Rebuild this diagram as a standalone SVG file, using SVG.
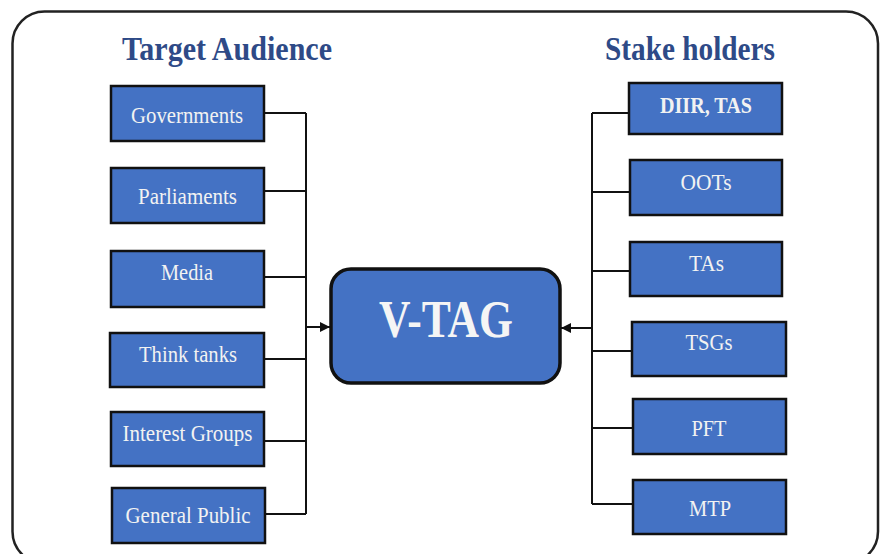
<svg xmlns="http://www.w3.org/2000/svg" width="884" height="554" viewBox="0 0 884 554">
<style>
.box{fill:#4472C4;stroke:#111;stroke-width:2.5}
.lbl{font-family:"Liberation Serif","Times New Roman",serif;font-size:24px;fill:#F2F2F2;text-anchor:middle}
.hdr{font-family:"Liberation Serif","Times New Roman",serif;font-size:34px;font-weight:bold;fill:#2E4A87;text-anchor:middle}
.con{fill:none;stroke:#111;stroke-width:2}
</style>
<defs>
<marker id="arr" viewBox="0 0 10 10" refX="10" refY="5" markerWidth="5" markerHeight="5" orient="auto" markerUnits="strokeWidth">
<path d="M0,0 L10,5 L0,10 z" fill="#111"/>
</marker>
</defs>
<rect x="0" y="0" width="884" height="554" fill="#fff"/>
<rect x="12.5" y="11.5" width="865.5" height="552" rx="32" ry="32" fill="none" stroke="#222" stroke-width="2.5"/>

<text class="hdr" x="227" y="60" textLength="210" lengthAdjust="spacingAndGlyphs">Target Audience</text>
<text class="hdr" x="690" y="60" textLength="170" lengthAdjust="spacingAndGlyphs">Stake holders</text>

<g id="connectors">
<path class="con" d="M264,113 H306 M264,191 H306 M264,277 H306 M264,359 H306 M264,441 H306 M264,514 H306 M306,113 V514"/>
<path class="con" d="M306,327 H330" marker-end="url(#arr)"/>
<path class="con" d="M629,113 H592 M630,192 H592 M630,271 H592 M632,351 H592 M633,428 H592 M633,504 H592 M592,113 V504"/>
<path class="con" d="M592,328 H561" marker-end="url(#arr)"/>
</g>

<g id="vtag">
<rect x="331" y="269" width="229" height="114" rx="20" ry="20" fill="#4472C4" stroke="#111" stroke-width="3.5"/>
<text x="446" y="337" font-family="'Liberation Serif','Times New Roman',serif" font-size="52" font-weight="bold" fill="#F5F5F5" text-anchor="middle" textLength="134" lengthAdjust="spacingAndGlyphs">V-TAG</text>
</g>

<g id="governments"><rect class="box" x="111" y="86" width="153" height="55"/><text class="lbl" x="187" y="123" textLength="112" lengthAdjust="spacingAndGlyphs">Governments</text></g>
<g id="parliaments"><rect class="box" x="111" y="168" width="153" height="55"/><text class="lbl" x="187.5" y="204" textLength="99" lengthAdjust="spacingAndGlyphs">Parliaments</text></g>
<g id="media"><rect class="box" x="111" y="251" width="153" height="56"/><text class="lbl" x="187" y="280" textLength="52" lengthAdjust="spacingAndGlyphs">Media</text></g>
<g id="think-tanks"><rect class="box" x="110" y="333" width="154" height="54"/><text class="lbl" x="188" y="362" textLength="98" lengthAdjust="spacingAndGlyphs">Think tanks</text></g>
<g id="interest-groups"><rect class="box" x="111" y="412" width="153" height="54"/><text class="lbl" x="187.5" y="441" textLength="130" lengthAdjust="spacingAndGlyphs">Interest Groups</text></g>
<g id="general-public"><rect class="box" x="112" y="488" width="153" height="55"/><text class="lbl" x="188" y="523" textLength="125" lengthAdjust="spacingAndGlyphs">General Public</text></g>

<g id="diir-tas"><rect class="box" x="629" y="83" width="153" height="51"/><text class="lbl" x="706" y="113" font-weight="bold" textLength="92" lengthAdjust="spacingAndGlyphs">DIIR, TAS</text></g>
<g id="oots"><rect class="box" x="630" y="160" width="152" height="55"/><text class="lbl" x="706" y="190" textLength="51" lengthAdjust="spacingAndGlyphs">OOTs</text></g>
<g id="tas"><rect class="box" x="630" y="242" width="152" height="54"/><text class="lbl" x="706.5" y="271" textLength="35" lengthAdjust="spacingAndGlyphs">TAs</text></g>
<g id="tsgs"><rect class="box" x="632" y="322" width="154" height="54"/><text class="lbl" x="709" y="350" textLength="47" lengthAdjust="spacingAndGlyphs">TSGs</text></g>
<g id="pft"><rect class="box" x="633" y="399" width="153" height="55"/><text class="lbl" x="709" y="436" textLength="35" lengthAdjust="spacingAndGlyphs">PFT</text></g>
<g id="mtp"><rect class="box" x="633" y="480" width="153" height="54"/><text class="lbl" x="710" y="516" textLength="42" lengthAdjust="spacingAndGlyphs">MTP</text></g>
</svg>
